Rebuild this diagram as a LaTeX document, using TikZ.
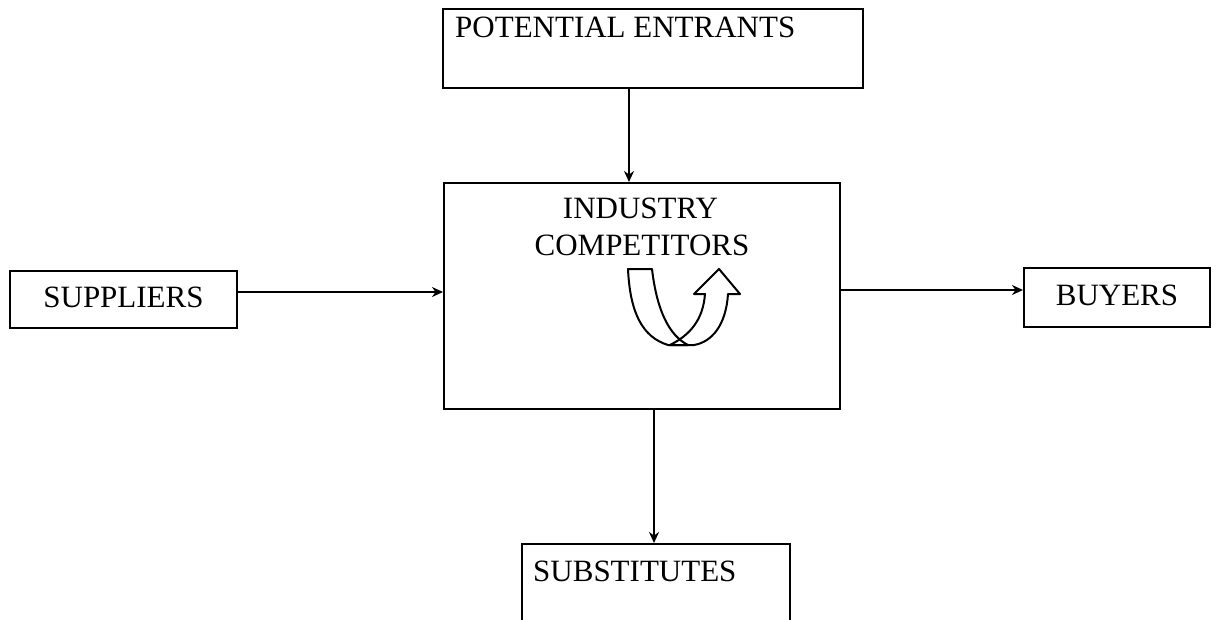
\documentclass[tikz,border=0pt]{standalone}
\usepackage{fontspec}
\setmainfont{Liberation Serif}
\usetikzlibrary{arrows.meta}
\begin{document}
\begin{tikzpicture}[x=1pt,y=-1pt,
  box/.style={draw,line width=2pt,inner sep=0pt},
  lbl/.style={inner sep=0pt,font=\fontsize{31}{35}\selectfont},
  arr/.style={line width=2pt,-{Stealth[length=11pt,width=10pt]}},
  uarr/.style={line width=2pt,line join=round}]
\path[use as bounding box] (0,0) rectangle (1221,619);
\begin{scope}
\clip (0,0) rectangle (1221,619);
% boxes
\node[box,minimum width=420pt,minimum height=79pt] (pe) at (653,48.5) {};
\node[box,minimum width=396pt,minimum height=226pt] (ic) at (642,296) {};
\node[box,minimum width=227pt,minimum height=57pt] (sup) at (123.5,299.5) {};
\node[box,minimum width=186pt,minimum height=59pt] (buy) at (1117,297.5) {};
\node[box,minimum width=268pt,minimum height=90pt] (sub) at (656,589) {};
\end{scope}
% texts
\node[lbl,anchor=base west] (pet) at (455,37) {POTENTIAL ENTRANTS};
\node[lbl,anchor=base] (ict1) at (640.5,218) {INDUSTRY};
\node[lbl,anchor=base] (ict2) at (642,255) {COMPETITORS};
\node[lbl,anchor=base] (supt) at (123.5,307) {SUPPLIERS};
\node[lbl,anchor=base] (buyt) at (1117,305) {BUYERS};
\node[lbl,anchor=base west] (subt) at (533,581) {SUBSTITUTES};
% connector guide coordinates
\coordinate (c1) at (629,0);
\coordinate (c2) at (0,292);
\coordinate (c3) at (0,290);
\coordinate (c4) at (654,0);
\draw[arr] (pe.south -| c1) -- (ic.north -| c1);
\draw[arr] (sup.east |- c2) -- (ic.west |- c2);
\draw[arr] (ic.east |- c3) -- (buy.west |- c3);
\draw[arr] (ic.south -| c4) -- (sub.north -| c4);
% U-turn arrow
\draw[uarr] (628,269) -- (652,269)
  .. controls (657,312) and (670,336) .. (688,345)
  -- (668,345)
  .. controls (642,337) and (630,312) .. (628,269) -- cycle;
\draw[uarr] (670,345)
  .. controls (690,335) and (703,320) .. (705,294)
  -- (694,294) -- (719,269) -- (740,294) -- (728,294)
  .. controls (726,325) and (712,342) .. (694,345) -- cycle;
\end{tikzpicture}
\end{document}
